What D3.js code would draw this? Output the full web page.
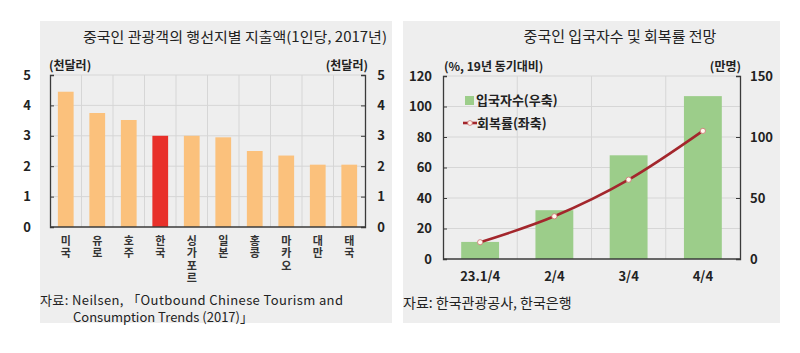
<!DOCTYPE html>
<html>
<head>
<meta charset="utf-8">
<script src="https://cdn.jsdelivr.net/npm/d3@7"></script>
<style>
  body { margin: 0; background: #fff; }
  svg { font-family: "Noto Sans CJK KR", "Noto Sans", sans-serif; }
</style>
</head>
<body>
<div id="chart"></div>
<script>
// left chart: spending per visitor by destination (thousand USD)
const destinations = ['미국', '유로', '호주', '한국', '싱가포르', '일본', '홍콩', '마카오', '대만', '태국'];
const spending = [4.45, 3.75, 3.52, 3.0, 3.0, 2.95, 2.5, 2.35, 2.05, 2.05];
const leftTicks = [0, 1, 2, 3, 4, 5];

// right chart: arrivals (만명, right axis) and recovery rate (%, left axis)
const quarters = ['23.1/4', '2/4', '3/4', '4/4'];
const arrivals = [14, 40, 85, 133.5];
const recovery = [11, 28, 52, 84];
const pctTicks = [0, 20, 40, 60, 80, 100, 120];
const arrTicks = [0, 50, 100, 150];

const svg = d3.select('#chart').append('svg')
    .attr('width', 800)
    .attr('height', 353);

const panelColor = '#eeeeee';
const gridColor = '#d6d6d6';
const axisColor = '#3a3a3a';

// ---------- left panel ----------
svg.append('rect').attr('x', 40).attr('y', 21).attr('width', 352).attr('height', 302).attr('fill', panelColor);

const L = {left: 50, right: 365, top: 75, bottom: 227};

const x1 = d3.scaleBand().domain(destinations).range([L.left, L.right]).paddingInner(0.5).paddingOuter(0.25);
const y1 = d3.scaleLinear().domain([0, 5]).range([L.bottom, L.top]);

const g1 = svg.append('g');

// grid
const step1 = (L.right - L.left) / destinations.length;
g1.selectAll('.vgrid').data(d3.range(1, destinations.length)).join('line')
    .attr('x1', i => L.left + i * step1).attr('x2', i => L.left + i * step1)
    .attr('y1', L.top).attr('y2', L.bottom)
    .attr('stroke', gridColor);
g1.selectAll('.hgrid').data(leftTicks.slice(1)).join('line')
    .attr('x1', L.left).attr('x2', L.right)
    .attr('y1', d => y1(d)).attr('y2', d => y1(d))
    .attr('stroke', gridColor);

g1.selectAll('rect.bar').data(spending).join('rect')
    .attr('class', 'bar')
    .attr('x', (d, i) => x1(destinations[i]))
    .attr('width', x1.bandwidth())
    .attr('y', d => y1(d))
    .attr('height', d => y1(0) - y1(d))
    .attr('fill', (d, i) => destinations[i] === '한국' ? '#e8302a' : '#fbc17c');

const axL1 = g1.append('g').attr('transform', `translate(${L.left},0)`)
    .call(d3.axisRight(y1).tickValues(leftTicks).tickSize(4).tickFormat(''));
const axR1 = g1.append('g').attr('transform', `translate(${L.right},0)`)
    .call(d3.axisLeft(y1).tickValues(leftTicks).tickSize(4).tickFormat(''));
[axL1, axR1].forEach(a => a.select('.domain').attr('stroke', axisColor).attr('stroke-width', 1.3));
[axL1, axR1].forEach(a => a.selectAll('.tick line').attr('stroke', axisColor));
g1.append('line').attr('x1', L.left).attr('x2', L.right).attr('y1', L.bottom).attr('y2', L.bottom)
    .attr('stroke', axisColor).attr('stroke-width', 1.3);

// tick labels outside
g1.selectAll('.lt').data(leftTicks).join('text')
    .attr('x', 31).attr('y', d => y1(d)).attr('dy', '0.36em')
    .attr('text-anchor', 'end').attr('font-size', 13).attr('font-weight', 'bold').attr('fill', '#222')
    .text(d => d);
g1.selectAll('.rt').data(leftTicks).join('text')
    .attr('x', 381).attr('y', d => y1(d)).attr('dy', '0.36em')
    .attr('text-anchor', 'middle').attr('font-size', 13).attr('font-weight', 'bold').attr('fill', '#222')
    .text(d => d);

// vertical category labels, one character per line
destinations.forEach(name => {
    const cxl = x1(name) + x1.bandwidth() / 2;
    g1.selectAll(null).data(name.split('')).join('text')
        .attr('x', cxl)
        .attr('y', (d, i) => 241 + i * 12.5)
        .attr('dy', '0.36em')
        .attr('text-anchor', 'middle').attr('font-size', 11).attr('font-weight', 'bold').attr('fill', '#333')
        .text(d => d);
});

svg.append('text').attr('x', 387).attr('y', 37).attr('dy', '0.36em')
    .attr('text-anchor', 'end').attr('font-size', 14).attr('fill', '#222')
    .attr('textLength', 304).attr('lengthAdjust', 'spacingAndGlyphs')
    .text('중국인 관광객의 행선지별 지출액(1인당, 2017년)');
svg.append('text').attr('x', 49).attr('y', 66).attr('dy', '0.36em')
    .attr('font-size', 12).attr('font-weight', 'bold').attr('fill', '#222').text('(천달러)');
svg.append('text').attr('x', 368).attr('y', 66).attr('dy', '0.36em').attr('text-anchor', 'end')
    .attr('font-size', 12).attr('font-weight', 'bold').attr('fill', '#222').text('(천달러)');

svg.append('text').attr('x', 40).attr('y', 300).attr('dy', '0.36em')
    .attr('font-size', 13).attr('fill', '#222')
    .attr('textLength', 303).attr('lengthAdjust', 'spacing')
    .text('자료: Neilsen, 「Outbound Chinese Tourism and');
svg.append('text').attr('x', 73).attr('y', 317).attr('dy', '0.36em')
    .attr('font-size', 13).attr('fill', '#222')
    .text('Consumption Trends (2017)」');

// ---------- right panel ----------
svg.append('rect').attr('x', 403).attr('y', 21).attr('width', 377).attr('height', 302).attr('fill', panelColor);

const R = {left: 443, right: 740, top: 76, bottom: 259};

const x2 = d3.scaleBand().domain(quarters).range([R.left, R.right]).paddingInner(0.49).paddingOuter(0.245);
const y2 = d3.scaleLinear().domain([0, 120]).range([R.bottom, R.top]);
const y2r = d3.scaleLinear().domain([0, 150]).range([R.bottom, R.top]);

const g2 = svg.append('g');

const step2 = (R.right - R.left) / quarters.length;
g2.selectAll('.vgrid').data(d3.range(1, quarters.length)).join('line')
    .attr('x1', i => R.left + i * step2).attr('x2', i => R.left + i * step2)
    .attr('y1', R.top).attr('y2', R.bottom)
    .attr('stroke', gridColor);
g2.selectAll('.hgrid').data(pctTicks.slice(1)).join('line')
    .attr('x1', R.left).attr('x2', R.right)
    .attr('y1', d => y2(d)).attr('y2', d => y2(d))
    .attr('stroke', gridColor);

g2.selectAll('rect.bar').data(arrivals).join('rect')
    .attr('x', (d, i) => x2(quarters[i]))
    .attr('width', x2.bandwidth())
    .attr('y', d => y2r(d))
    .attr('height', d => y2r(0) - y2r(d))
    .attr('fill', '#9ccd8a');

const axL2 = g2.append('g').attr('transform', `translate(${R.left},0)`)
    .call(d3.axisRight(y2).tickValues(pctTicks).tickSize(4).tickFormat(''));
const axR2 = g2.append('g').attr('transform', `translate(${R.right},0)`)
    .call(d3.axisLeft(y2r).tickValues(arrTicks).tickSize(4).tickFormat(''));
[axL2, axR2].forEach(a => a.select('.domain').attr('stroke', axisColor).attr('stroke-width', 1.3));
[axL2, axR2].forEach(a => a.selectAll('.tick line').attr('stroke', axisColor));
g2.append('line').attr('x1', R.left).attr('x2', R.right).attr('y1', R.bottom).attr('y2', R.bottom)
    .attr('stroke', axisColor).attr('stroke-width', 1.3);

const cx = q => x2(q) + x2.bandwidth() / 2;
const line = d3.line().x((d, i) => cx(quarters[i])).y(d => y2(d)).curve(d3.curveMonotoneX);
g2.append('path').datum(recovery).attr('d', line)
    .attr('fill', 'none').attr('stroke', '#a3262c').attr('stroke-width', 2.6);
g2.selectAll('circle.pt').data(recovery).join('circle')
    .attr('cx', (d, i) => cx(quarters[i])).attr('cy', d => y2(d)).attr('r', 2.6)
    .attr('fill', '#fff8ee').attr('stroke', '#d07070').attr('stroke-width', 0.8);

g2.selectAll('.lt').data(pctTicks).join('text')
    .attr('x', 432).attr('y', d => y2(d)).attr('dy', '0.36em')
    .attr('text-anchor', 'end').attr('font-size', 13).attr('font-weight', 'bold').attr('fill', '#222')
    .text(d => d);
g2.selectAll('.rt').data(arrTicks).join('text')
    .attr('x', 750).attr('y', d => y2r(d)).attr('dy', '0.36em')
    .attr('text-anchor', 'start').attr('font-size', 13).attr('font-weight', 'bold').attr('fill', '#222')
    .text(d => d);
g2.selectAll('.cat').data(quarters).join('text')
    .attr('x', d => cx(d)).attr('y', 276).attr('dy', '0.36em')
    .attr('text-anchor', 'middle').attr('font-size', 13).attr('font-weight', 'bold').attr('fill', '#222')
    .text(d => d);

// legend
g2.append('rect').attr('x', 465).attr('y', 96).attr('width', 9).attr('height', 9).attr('fill', '#9ccd8a');
g2.append('text').attr('x', 476).attr('y', 100).attr('dy', '0.36em')
    .attr('font-size', 13).attr('font-weight', 'bold').attr('fill', '#222').text('입국자수(우축)');
g2.append('line').attr('x1', 463).attr('x2', 477).attr('y1', 123).attr('y2', 123)
    .attr('stroke', '#a3262c').attr('stroke-width', 2.6);
g2.append('circle').attr('cx', 470).attr('cy', 123).attr('r', 2.4)
    .attr('fill', '#fff8ee').attr('stroke', '#d07070').attr('stroke-width', 0.8);
g2.append('text').attr('x', 477).attr('y', 123).attr('dy', '0.36em')
    .attr('font-size', 13).attr('font-weight', 'bold').attr('fill', '#222').text('회복률(좌축)');

svg.append('text').attr('x', 620).attr('y', 37).attr('dy', '0.36em')
    .attr('text-anchor', 'middle').attr('font-size', 15).attr('fill', '#222')
    .text('중국인 입국자수 및 회복률 전망');
svg.append('text').attr('x', 444).attr('y', 67).attr('dy', '0.36em')
    .attr('font-size', 12).attr('font-weight', 'bold').attr('fill', '#222').text('(%, 19년 동기대비)');
svg.append('text').attr('x', 741).attr('y', 67).attr('dy', '0.36em').attr('text-anchor', 'end')
    .attr('font-size', 12).attr('font-weight', 'bold').attr('fill', '#222').text('(만명)');
svg.append('text').attr('x', 403).attr('y', 303).attr('dy', '0.36em')
    .attr('font-size', 14).attr('fill', '#222').text('자료: 한국관광공사, 한국은행');
</script>
</body>
</html>
